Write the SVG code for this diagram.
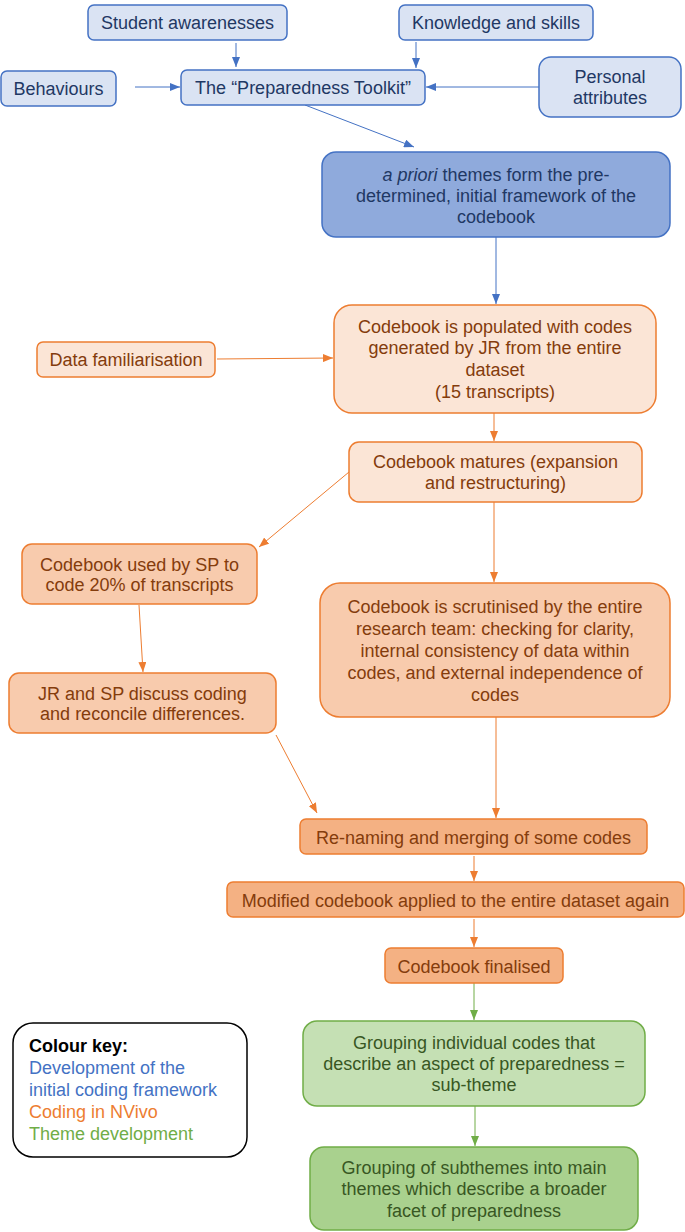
<svg xmlns="http://www.w3.org/2000/svg" width="685" height="1232" viewBox="0 0 685 1232">
<defs>
<style>
text{font-family:"Liberation Sans",Arial,sans-serif;font-size:18px;text-anchor:middle}
.b1{fill:#dae3f3;stroke:#4472c4;stroke-width:1.5}
.b2{fill:#8faadc;stroke:#4472c4;stroke-width:1.5}
.o1{fill:#fbe5d6;stroke:#ed7d31;stroke-width:1.5}
.o2{fill:#f8cbad;stroke:#ed7d31;stroke-width:1.5}
.o3{fill:#f4b183;stroke:#ed7d31;stroke-width:1.5}
.g1{fill:#c5e0b4;stroke:#70ad47;stroke-width:1.5}
.g2{fill:#a9d18e;stroke:#70ad47;stroke-width:1.5}
.tb{fill:#1f3864}
.to{fill:#843c0c}
.tg{fill:#385723}
.cb{stroke:#4472c4;stroke-width:1;fill:none;marker-end:url(#ab)}
.co{stroke:#ed7d31;stroke-width:1;fill:none;marker-end:url(#ao)}
.cg{stroke:#70ad47;stroke-width:1;fill:none;marker-end:url(#ag)}
</style>
<marker id="ab" viewBox="0 0 10 8" refX="10" refY="4" markerWidth="10" markerHeight="8" markerUnits="userSpaceOnUse" orient="auto"><path d="M0,0 L10,4 L0,8 z" fill="#4472c4"/></marker>
<marker id="ao" viewBox="0 0 10 8" refX="10" refY="4" markerWidth="10" markerHeight="8" markerUnits="userSpaceOnUse" orient="auto"><path d="M0,0 L10,4 L0,8 z" fill="#ed7d31"/></marker>
<marker id="ag" viewBox="0 0 10 8" refX="10" refY="4" markerWidth="10" markerHeight="8" markerUnits="userSpaceOnUse" orient="auto"><path d="M0,0 L10,4 L0,8 z" fill="#70ad47"/></marker>
</defs>
<rect width="685" height="1232" fill="#ffffff"/>
<g id="connectors">
<line class="cb" x1="236" y1="43" x2="236" y2="67"/>
<line class="cb" x1="416" y1="42" x2="416" y2="68"/>
<line class="cb" x1="135" y1="87" x2="180" y2="87"/>
<line class="cb" x1="539" y1="87" x2="426" y2="87"/>
<line class="cb" x1="305" y1="105" x2="414" y2="147"/>
<line class="cb" x1="496" y1="237" x2="496" y2="304"/>
<line class="co" x1="217" y1="359" x2="333" y2="358"/>
<line class="co" x1="494" y1="413" x2="494" y2="441"/>
<line class="co" x1="349" y1="472" x2="259" y2="547"/>
<line class="co" x1="494" y1="502" x2="494" y2="582"/>
<line class="co" x1="139" y1="605" x2="143" y2="672"/>
<line class="co" x1="276" y1="735" x2="317" y2="813"/>
<line class="co" x1="496" y1="717" x2="496" y2="818"/>
<line class="co" x1="474" y1="856" x2="474" y2="881"/>
<line class="co" x1="474" y1="919" x2="474" y2="947"/>
<line class="cg" x1="474" y1="983" x2="474" y2="1020"/>
<line class="cg" x1="475" y1="1106" x2="475" y2="1146"/>
</g>
<g id="student"><rect class="b1" x="88" y="5" width="199" height="35" rx="6"/><text class="tb" x="187.5" y="29">Student awarenesses</text></g>
<g id="knowledge"><rect class="b1" x="399" y="5" width="194" height="35" rx="6"/><text class="tb" x="496" y="29">Knowledge and skills</text></g>
<g id="behaviours"><rect class="b1" x="1" y="71" width="115" height="35" rx="6"/><text class="tb" x="58.5" y="95">Behaviours</text></g>
<g id="toolkit"><rect class="b1" x="181" y="70" width="244" height="35" rx="6"/><text class="tb" x="303" y="94">The “Preparedness Toolkit”</text></g>
<g id="personal"><rect class="b1" x="539" y="57" width="142" height="60" rx="12"/><text class="tb" x="610" y="83">Personal</text><text class="tb" x="610" y="104">attributes</text></g>
<g id="apriori"><rect class="b2" x="322" y="152" width="348" height="85" rx="14"/><text class="tb" x="496" y="181"><tspan font-style="italic">a priori</tspan> themes form the pre-</text><text class="tb" x="496" y="202">determined, initial framework of the</text><text class="tb" x="496" y="223">codebook</text></g>
<g id="populated"><rect class="o1" x="334" y="305" width="322" height="108" rx="18"/><text class="to" x="495" y="333">Codebook is populated with codes</text><text class="to" x="495" y="354">generated by JR from the entire</text><text class="to" x="495" y="376">dataset</text><text class="to" x="495" y="398">(15 transcripts)</text></g>
<g id="familiarisation"><rect class="o1" x="37" y="342" width="178" height="35" rx="6"/><text class="to" x="126" y="366">Data familiarisation</text></g>
<g id="matures"><rect class="o1" x="349" y="442" width="293" height="60" rx="10"/><text class="to" x="495.5" y="468">Codebook matures (expansion</text><text class="to" x="495.5" y="489">and restructuring)</text></g>
<g id="sp"><rect class="o2" x="22" y="544" width="235" height="60" rx="10"/><text class="to" x="139.5" y="571">Codebook used by SP to</text><text class="to" x="139.5" y="591">code 20% of transcripts</text></g>
<g id="scrutinised"><rect class="o2" x="320" y="583" width="350" height="134" rx="20"/><text class="to" x="495" y="613">Codebook is scrutinised by the entire</text><text class="to" x="495" y="635">research team: checking for clarity,</text><text class="to" x="495" y="657">internal consistency of data within</text><text class="to" x="495" y="679">codes, and external independence of</text><text class="to" x="495" y="701">codes</text></g>
<g id="reconcile"><rect class="o2" x="9" y="673" width="267" height="60" rx="10"/><text class="to" x="142.5" y="700">JR and SP discuss coding</text><text class="to" x="142.5" y="720">and reconcile differences.</text></g>
<g id="renaming"><rect class="o3" x="300" y="819" width="347" height="35" rx="6"/><text class="to" x="473.5" y="844">Re-naming and merging of some codes</text></g>
<g id="modified"><rect class="o3" x="227" y="882" width="457" height="35" rx="6"/><text class="to" x="455.5" y="907">Modified codebook applied to the entire dataset again</text></g>
<g id="finalised"><rect class="o3" x="385" y="948" width="178" height="35" rx="6"/><text class="to" x="474" y="973">Codebook finalised</text></g>
<g id="subtheme"><rect class="g1" x="303" y="1021" width="342" height="85" rx="14"/><text class="tg" x="474" y="1049">Grouping individual codes that</text><text class="tg" x="474" y="1070">describe an aspect of preparedness =</text><text class="tg" x="474" y="1091">sub-theme</text></g>
<g id="mainthemes"><rect class="g2" x="310" y="1147" width="328" height="83" rx="14"/><text class="tg" x="474" y="1174">Grouping of subthemes into main</text><text class="tg" x="474" y="1195">themes which describe a broader</text><text class="tg" x="474" y="1217">facet of preparedness</text></g>
<g id="key"><rect x="13" y="1023" width="234" height="134" rx="20" fill="#ffffff" stroke="#000000" stroke-width="1.5"/>
<text x="29" y="1052" style="text-anchor:start;font-weight:bold" fill="#000000">Colour key:</text>
<text x="29" y="1074" style="text-anchor:start" fill="#4472c4">Development of the</text>
<text x="29" y="1096" style="text-anchor:start" fill="#4472c4">initial coding framework</text>
<text x="29" y="1118" style="text-anchor:start" fill="#ed7d31">Coding in NVivo</text>
<text x="29" y="1140" style="text-anchor:start" fill="#70ad47">Theme development</text></g>
</svg>
